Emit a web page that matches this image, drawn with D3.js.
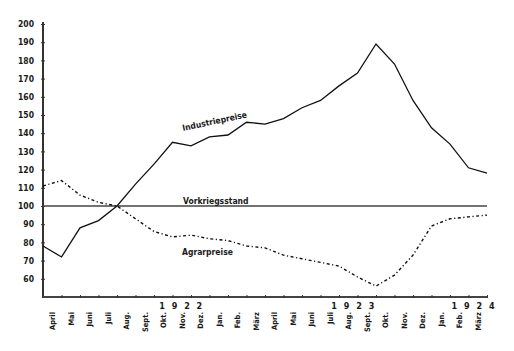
<!DOCTYPE html>
<html>
<head>
<meta charset="utf-8">
<script src="https://cdn.jsdelivr.net/npm/d3@7"></script>
<style>
  body { margin: 0; background: #fff; }
  text { font-family: 'DejaVu Sans Condensed', 'DejaVu Sans', sans-serif; fill: #1a1a1a; }
</style>
</head>
<body>
<script>
const w = 514
const h = 351

// month labels (between ticks), April 1922 .. März 1924
const months = ['April', 'Mai', 'Juni', 'Juli', 'Aug.', 'Sept.', 'Okt.', 'Nov.', 'Dez.', 'Jan.', 'Feb.', 'März',
  'April', 'Mai', 'Juni', 'Juli', 'Aug.', 'Sept.', 'Okt.', 'Nov.', 'Dez.', 'Jan.', 'Feb.', 'März']
const years = ['1 9 2 2', '1 9 2 3', '1 9 2 4']
const yearAt = [7, 16.3, 22.8]

// index values at month boundaries
const industrie = [78, 72, 88, 92, 100, 112, 123, 135, 133, 138, 139, 146, 145,
  148, 154, 158, 166, 173, 189, 178, 158, 143, 134, 121, 118]
const agrar = [111, 114, 106, 102, 100, 93, 86, 83, 84, 82, 81, 78, 77,
  73, 71, 69, 67, 61, 56, 62, 73, 89, 93, 94, 95]
const vorkrieg = 100
const yTicks = d3.range(60, 201, 10)

const svg = d3.select('body').append('svg')
  .attr('width', w)
  .attr('height', h)

const x = d3.scaleLinear().domain([0, 24]).range([43, 487])
const y = d3.scaleLinear().domain([50, 200]).range([297, 24])

// y axis
const yAxis = svg.append('g')
  .attr('transform', `translate(${x(0)},0)`)
  .call(d3.axisLeft(y).tickValues(yTicks).tickSize(3).tickPadding(6))
yAxis.select('.domain').attr('d', `M0,${y(50) + 1}V${y(200) - 2}`).attr('stroke', '#333').attr('stroke-width', 2)
yAxis.selectAll('.tick line').attr('x1', -2).attr('x2', 2).attr('stroke', '#333')
yAxis.selectAll('.tick text').attr('font-size', 8.5).attr('font-weight', 'bold')
  .style('font-family', "'DejaVu Sans Condensed', 'DejaVu Sans', sans-serif")

// x axis
const xAxis = svg.append('g')
  .attr('transform', `translate(0,${y(50)})`)
  .call(d3.axisBottom(x).tickValues(d3.range(1, 25)).tickSize(2).tickFormat(''))
xAxis.select('.domain').attr('d', `M${x(0)},0H${x(24) + 1}`).attr('stroke', '#444').attr('stroke-width', 2)
xAxis.selectAll('.tick line').attr('y1', -2).attr('y2', 1).attr('stroke', '#333')

// month labels
svg.append('g').selectAll('text')
  .data(months)
  .enter().append('text')
  .attr('transform', (d, i) => `translate(${x(i + 0.5) + 3},${y(50) + 15}) rotate(-90)`)
  .attr('text-anchor', 'end')
  .attr('font-size', 7.5)
  .attr('font-weight', 'bold')
  .text(d => d)

// year labels
svg.append('g').selectAll('text')
  .data(years)
  .enter().append('text')
  .attr('x', (d, i) => x(yearAt[i] + 0.5))
  .attr('y', y(50) + 12)
  .attr('text-anchor', 'middle')
  .attr('font-size', 9)
  .attr('font-weight', 'bold')
  .attr('letter-spacing', 2)
  .text(d => d)

// Vorkriegsstand line
svg.append('line')
  .attr('x1', x(0)).attr('x2', x(24))
  .attr('y1', y(vorkrieg)).attr('y2', y(vorkrieg))
  .attr('stroke', '#444')
  .attr('stroke-width', 1.5)

const lineFn = d3.line()
  .x((d, i) => x(i))
  .y(d => y(d))
  .curve(d3.curveLinear)

svg.append('path')
  .attr('d', lineFn(industrie))
  .attr('fill', 'none')
  .attr('stroke', '#111')
  .attr('stroke-width', 1.3)

svg.append('path')
  .attr('d', lineFn(agrar))
  .attr('fill', 'none')
  .attr('stroke', '#111')
  .attr('stroke-width', 1.4)
  .attr('stroke-dasharray', '3,2.5,1.2,2.5')

// line labels
svg.append('text')
  .attr('transform', 'translate(183,131) rotate(-12)')
  .attr('font-size', 8.5)
  .attr('font-weight', 'bold')
  .text('Industriepreise')

svg.append('text')
  .attr('x', 183).attr('y', 204)
  .attr('font-size', 8.5)
  .attr('font-weight', 'bold')
  .text('Vorkriegsstand')

svg.append('text')
  .attr('x', 182).attr('y', 255)
  .attr('font-size', 8.5)
  .attr('font-weight', 'bold')
  .text('Agrarpreise')
</script>
</body>
</html>
